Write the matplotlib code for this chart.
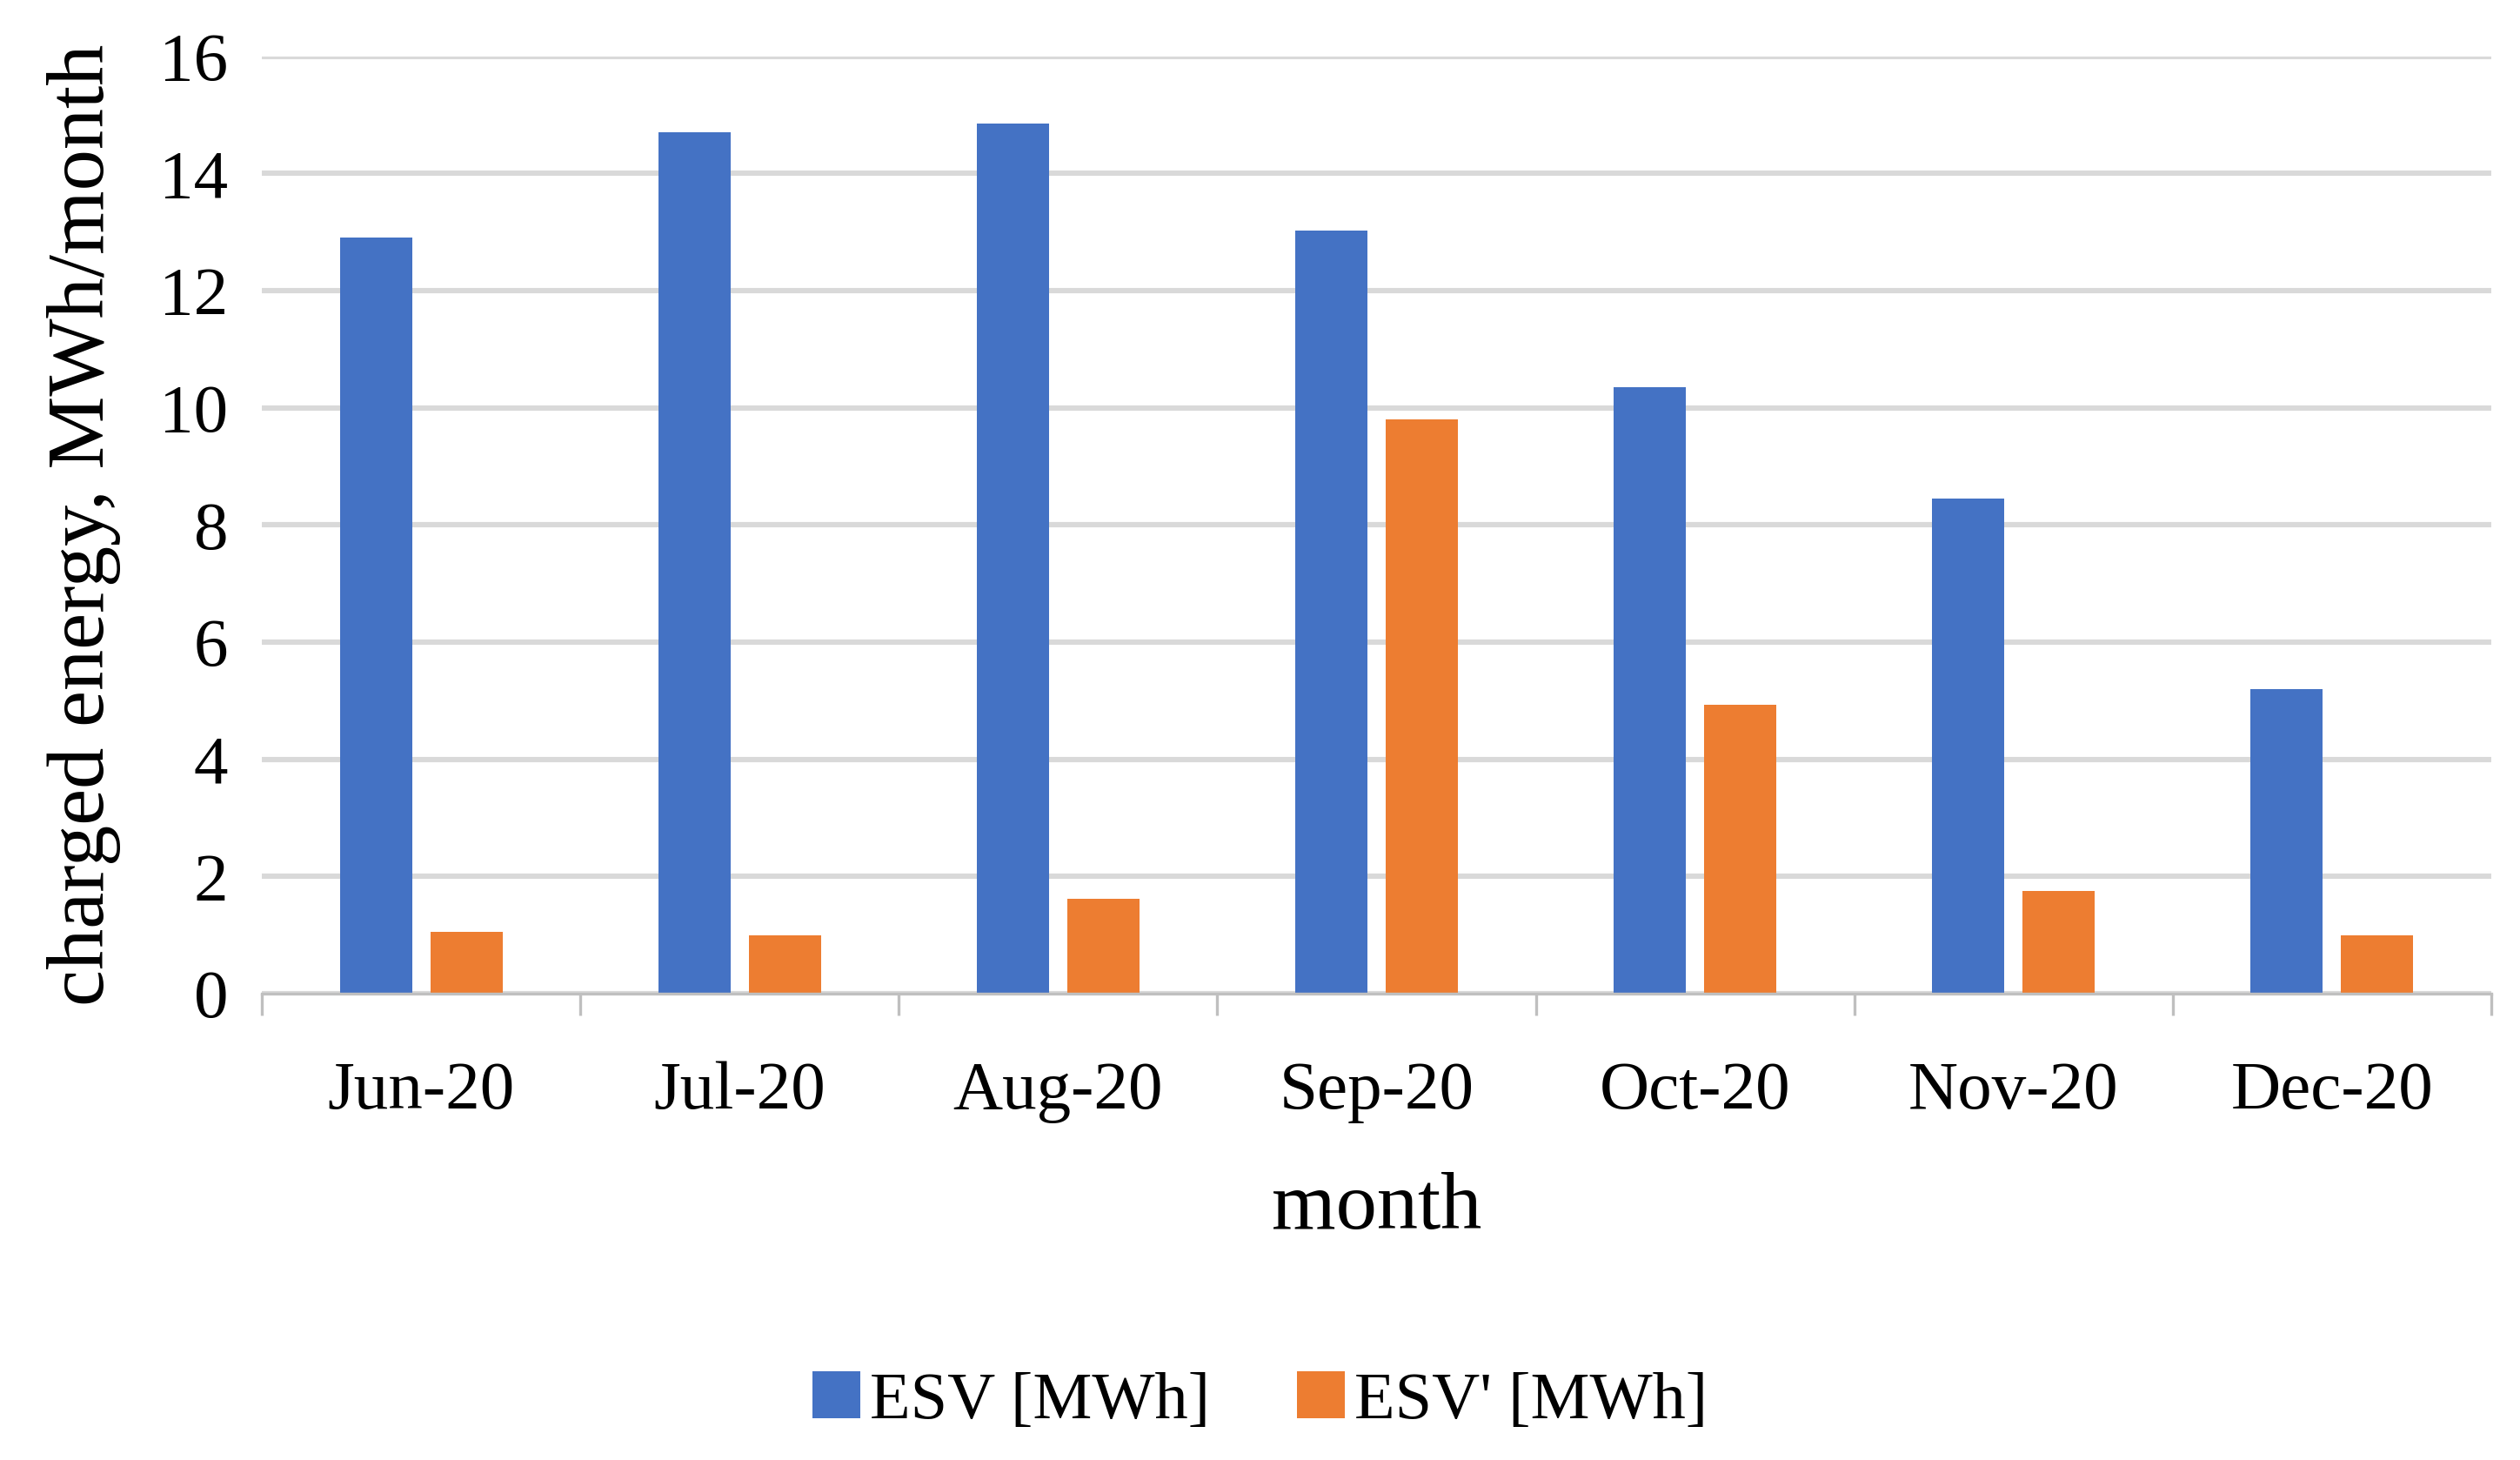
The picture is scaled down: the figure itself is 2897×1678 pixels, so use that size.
import matplotlib.pyplot as plt
import numpy as np

months = ['Jun-20', 'Jul-20', 'Aug-20', 'Sep-20', 'Oct-20', 'Nov-20', 'Dec-20']
esv = [12.9, 14.7, 14.85, 13.02, 10.35, 8.45, 5.2]
esv2 = [1.06, 1.0, 1.62, 9.8, 4.93, 1.76, 1.0]

plt.rcParams['font.family'] = ['Liberation Serif', 'DejaVu Serif']

fig = plt.figure(figsize=(14.485, 8.39), dpi=200)
ax = fig.add_axes([0.104, 0.3194, 0.8845, 0.6421])

x = np.arange(len(months))
w = 0.227
ax.bar(x - 0.142, esv, w, color='#4472C4', label='ESV [MWh]', zorder=3)
ax.bar(x + 0.142, esv2, w, color='#ED7D31', label="ESV' [MWh]", zorder=3)

ax.set_xlim(-0.5, len(months) - 0.5)
ax.set_ylim(0, 16)
ax.set_yticks(range(0, 17, 2))
ax.set_xticks(x)
ax.set_xticklabels(months)
ax.set_xticks(np.arange(-0.5, len(months)), minor=True)
ax.tick_params(axis='x', which='major', length=0, pad=28, labelsize=28.5)
ax.tick_params(axis='x', which='minor', length=9, width=1.2, color='#bfbfbf')
ax.tick_params(axis='y', length=0, pad=14, labelsize=28.5)

ax.grid(axis='y', color='#d9d9d9', linewidth=2.2, zorder=0)
for s in ['top', 'right', 'left']:
    ax.spines[s].set_visible(False)
ax.spines['bottom'].set_color('#bfbfbf')
ax.spines['bottom'].set_linewidth(1.2)
ax.spines['bottom'].set_zorder(4)

ax.set_xlabel('month', fontsize=34, labelpad=20)
ax.set_ylabel('charged energy, MWh/month', fontsize=34, labelpad=16)

fig.legend(loc='center', bbox_to_anchor=(0.5, 0.04), ncol=2, frameon=False,
           fontsize=27.5, handlelength=0.72, handleheight=0.72, columnspacing=1.3,
           handletextpad=0.15)

fig.savefig('out.png', dpi=200, facecolor='white')
